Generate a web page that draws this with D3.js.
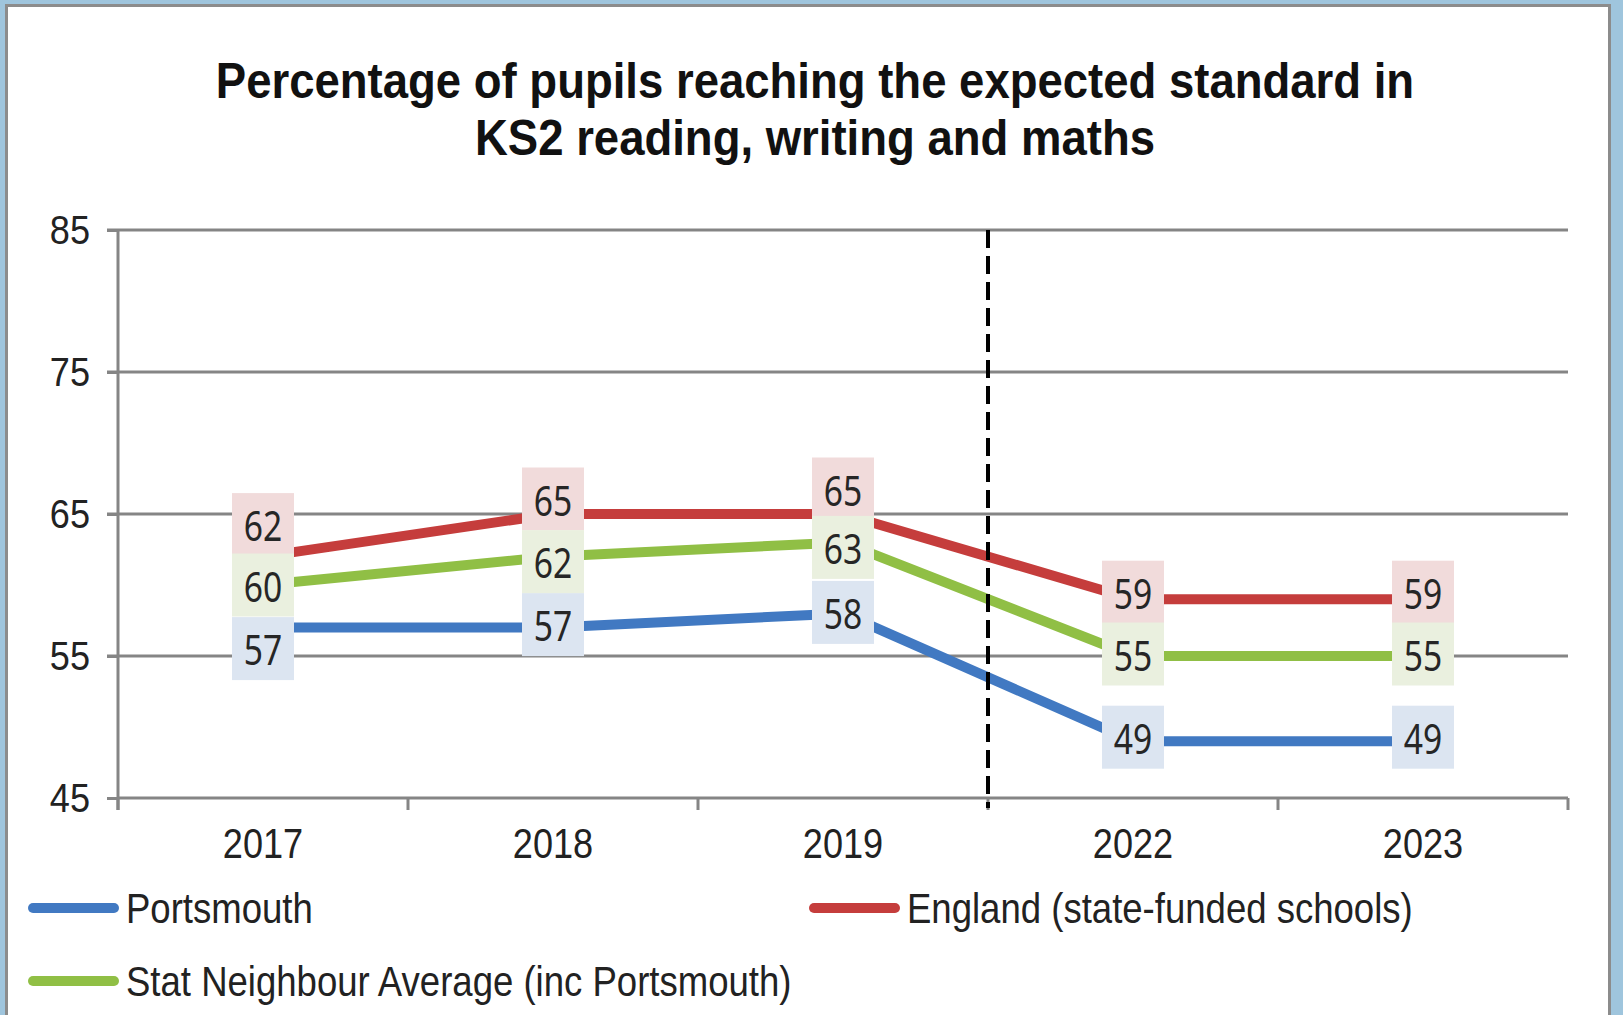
<!DOCTYPE html>
<html>
<head>
<meta charset="utf-8">
<script src="https://cdn.jsdelivr.net/npm/d3@7"></script>
<style>
  html, body { margin: 0; padding: 0; background: #9fc5dd; }
  svg { display: block; }
</style>
</head>
<body>
<svg id="chart" width="1623" height="1015"></svg>
<script>
// ---- data ----
const years = ["2017", "2018", "2019", "2022", "2023"];
const portsmouth = [57, 57, 58, 49, 49];
const england = [62, 65, 65, 59, 59];
const statNeighbour = [60, 62, 63, 55, 55];
const yTicks = [45, 55, 65, 75, 85];
const seriesNames = ["Portsmouth", "England (state-funded schools)", "Stat Neighbour Average (inc Portsmouth)"];
const titleLines = ["Percentage of pupils reaching the expected standard in", "KS2 reading, writing and maths"];

// ---- layout & style ----
const W = 1623, H = 1015;
const plot = { left: 118, right: 1568, top: 230, bottom: 798 };
const sans = "'Liberation Sans', Arial, sans-serif";
const labelFont = "'Noto Sans', 'Open Sans', sans-serif";

const series = [
  { name: seriesNames[0], values: portsmouth,    color: "#4179c2", box: "#dce5f1", nudge: [21, -3, -1, -4, -4] },
  { name: seriesNames[1], values: england,       color: "#c53d3c", box: "#f1dbdb", nudge: [-32, -15, -25, -7, -7] },
  { name: seriesNames[2], values: statNeighbour, color: "#90bf45", box: "#eaf0df", nudge: [0, 5, 5, -2, -2] }
];

// squeeze a text element horizontally while keeping its anchor point
function squeeze(sel, s) {
  sel.each(function () {
    const t = d3.select(this);
    const x0 = +t.attr("x") || 0;
    t.attr("x", x0 / s).attr("transform", `scale(${s},1)`);
  });
}

const svg = d3.select("#chart");

// frame: pale blue surround with a grey-edged white panel
svg.append("rect").attr("x", 0).attr("y", 0).attr("width", W).attr("height", H).attr("fill", "#9fc5dd");
svg.append("rect").attr("x", 6.5).attr("y", 5.5).attr("width", 1603).attr("height", H + 20)
  .attr("fill", "#ffffff").attr("stroke", "#8c8c8c").attr("stroke-width", 3);

// title
const title = svg.append("g").selectAll("text").data(titleLines).join("text")
  .attr("x", 815).attr("y", (d, i) => 81 + i * 57)
  .attr("text-anchor", "middle").attr("dominant-baseline", "central")
  .attr("font-family", sans).attr("font-weight", "bold").attr("font-size", 50)
  .attr("fill", "#111").text(d => d);
squeeze(title, 0.91);

// scales
const x = d3.scaleBand().domain(years).range([plot.left, plot.right]).padding(0);
const y = d3.scaleLinear().domain([45, 85]).range([plot.bottom, plot.top]);
const cx = d => x(d) + x.bandwidth() / 2;

// horizontal gridlines
svg.append("g").selectAll("line").data(yTicks.filter(t => t !== 45)).join("line")
  .attr("x1", plot.left - 11).attr("x2", plot.right)
  .attr("y1", d => y(d)).attr("y2", d => y(d))
  .attr("stroke", "#858585").attr("stroke-width", 3);

// y axis
const yAxis = svg.append("g").attr("transform", `translate(${plot.left},0)`)
  .call(d3.axisLeft(y).tickValues(yTicks).tickSize(11).tickPadding(17).tickFormat(d3.format("d")));
yAxis.select(".domain").attr("stroke", "#858585").attr("stroke-width", 3)
  .attr("d", `M0,${plot.top}V${plot.bottom + 12}`);
yAxis.selectAll(".tick line").attr("stroke", "#858585").attr("stroke-width", 3);
yAxis.selectAll(".tick text").attr("font-family", sans).attr("font-size", 41).attr("fill", "#222");
squeeze(yAxis.selectAll(".tick text"), 0.88);

// x axis: ticks sit on category boundaries
const xAxis = svg.append("g").attr("transform", `translate(0,${plot.bottom})`)
  .call(d3.axisBottom(x).tickSize(0).tickPadding(30));
xAxis.select(".domain").attr("stroke", "#858585").attr("stroke-width", 3)
  .attr("d", `M${plot.left},0H${plot.right}`);
xAxis.selectAll(".tick text").attr("font-family", sans).attr("font-size", 42).attr("fill", "#222");
squeeze(xAxis.selectAll(".tick text"), 0.86);
const bounds = years.map(d => x(d)).concat([plot.right]);
xAxis.append("g").selectAll("line").data(bounds).join("line")
  .attr("x1", d => d).attr("x2", d => d).attr("y1", 0).attr("y2", 12)
  .attr("stroke", "#858585").attr("stroke-width", 3);

// series lines
const line = d3.line().x((d, i) => cx(years[i])).y(d => y(d));
svg.append("g").selectAll("path").data(series).join("path")
  .attr("d", d => line(d.values)).attr("fill", "none")
  .attr("stroke", d => d.color).attr("stroke-width", 10).attr("stroke-linejoin", "round");

// break between 2019 and 2022
const breakX = x("2022");
svg.append("line").attr("x1", breakX).attr("x2", breakX)
  .attr("y1", plot.top).attr("y2", plot.bottom + 10)
  .attr("stroke", "#000").attr("stroke-width", 4).attr("stroke-dasharray", "18,8");

// value labels in tinted boxes
const boxW = 62, boxH = 63;
const labels = svg.append("g");
series.forEach(s => {
  const g = labels.append("g").selectAll("g").data(s.values).join("g")
    .attr("transform", (v, i) => `translate(${cx(years[i])},${y(v) + s.nudge[i]})`);
  g.append("rect").attr("x", -boxW / 2).attr("y", -boxH / 2).attr("width", boxW).attr("height", boxH)
    .attr("fill", s.box);
  g.append("text").attr("transform", "scale(0.8,1)")
    .attr("text-anchor", "middle").attr("dominant-baseline", "central")
    .attr("font-family", labelFont).attr("font-size", 42).attr("fill", "#262626")
    .text(v => v);
});

// legend
const legendPos = [[28, 908], [809, 908], [28, 981]];
const legend = svg.append("g").selectAll("g").data(series).join("g")
  .attr("transform", (d, i) => `translate(${legendPos[i][0]},${legendPos[i][1]})`);
legend.append("line").attr("x1", 5).attr("x2", 86).attr("y1", 0).attr("y2", 0)
  .attr("stroke", d => d.color).attr("stroke-width", 10).attr("stroke-linecap", "round");
const legendText = legend.append("text").attr("x", 98).attr("y", 0).attr("dominant-baseline", "central")
  .attr("font-family", sans).attr("font-size", 43).attr("fill", "#222").text(d => d.name);
squeeze(legendText, 0.85);
</script>
</body>
</html>
